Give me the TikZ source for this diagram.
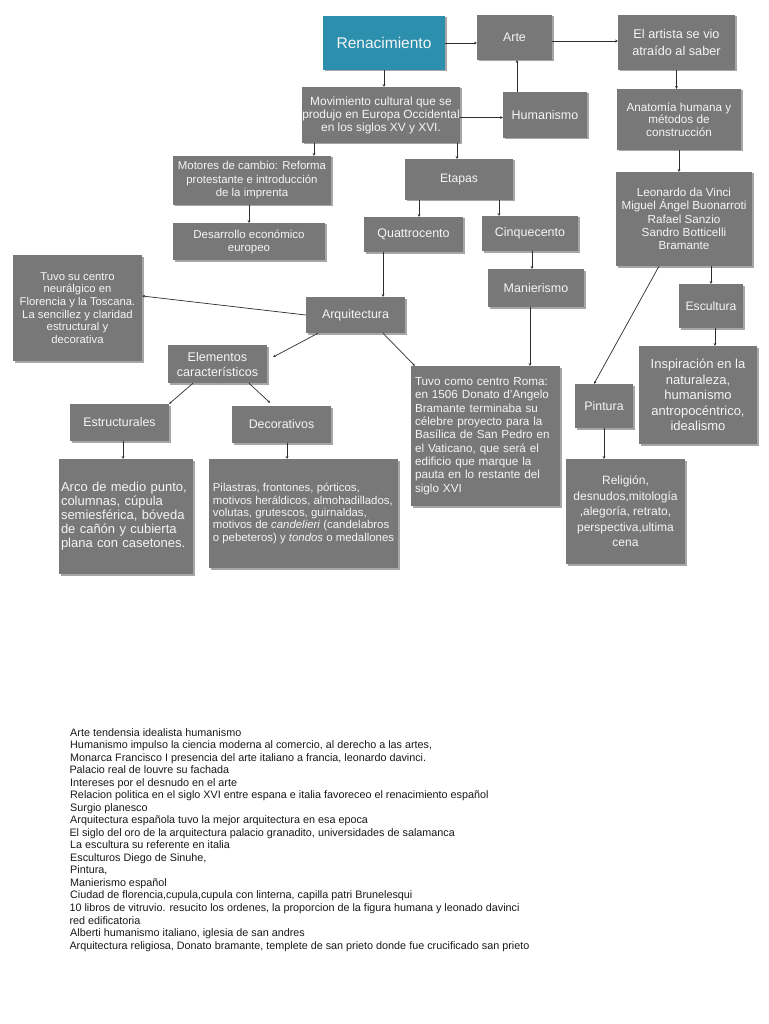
\documentclass[tikz,border=0pt]{standalone}
\usepackage{fontspec}
\setmainfont{Liberation Sans}
\usetikzlibrary{arrows.meta,shadows}
\definecolor{teal1}{RGB}{44,143,173}
\definecolor{boxgray}{RGB}{120,120,120}
\definecolor{boxtext}{RGB}{245,245,245}
\definecolor{linecol}{RGB}{45,45,45}
\begin{document}
\begin{tikzpicture}[x=1pt,y=-1pt,
  box/.style={fill=boxgray, text=boxtext, inner sep=0pt, align=center,
    drop shadow={shadow xshift=1.5pt, shadow yshift=-1.5pt, opacity=0.35, fill=black}},
  fs/.style 2 args={font=\fontsize{#1pt}{#2pt}\selectfont},
  arr/.style={draw=linecol, line width=0.7pt, -{Stealth[length=2.6pt,width=2.6pt]}},
  bt/.style={anchor=base west, inner sep=0pt, font=\fontsize{10.8pt}{12pt}\selectfont, text=black!90}]
\useasboundingbox[fill=white] (0,0) rectangle (768,1024);

% nodes
\node[box, fill=teal1, fs={15.5}{18}, minimum width=122pt, minimum height=54pt] (ren) at (384,43) {Renacimiento};
\node[box, fs={12.4}{14}, minimum width=75pt, minimum height=45pt] (arte) at (514.5,37.5) {Arte};
\node[box, fs={12.7}{16.5}, minimum width=117pt, minimum height=55pt] (artista) at (676.5,42.5) {El artista se vio\\atraído al saber};
\node[box, fs={11.9}{13}, minimum width=158pt, minimum height=56pt] (mov) at (381,115) {Movimiento cultural que se\\produjo en Europa Occidental\\en los siglos XV y XVI.};
\node[box, fs={12.5}{14}, minimum width=84pt, minimum height=46pt] (hum) at (545,115) {Humanismo};
\node[box, fs={11.7}{12.6}, minimum width=124pt, minimum height=61pt] (anat) at (679,119.5) {Anatomía humana y\\métodos de\\construcción};
\node[box, fs={11.4}{13.5}, minimum width=158pt, minimum height=49pt] (mot) at (252,180.5) {Motores de cambio: Reforma\\protestante e introducción\\de la imprenta};
\node[box, fs={12.2}{14}, minimum width=108pt, minimum height=41pt] (etapas) at (459,179.5) {Etapas};
\node[box, fs={11.7}{13.3}, minimum width=136pt, minimum height=94pt] (leo) at (684,219) {Leonardo da Vinci\\Miguel Ángel Buonarroti\\Rafael Sanzio\\Sandro Botticelli\\Bramante};
\node[box, fs={11.5}{13}, minimum width=152pt, minimum height=37pt] (des) at (249,241.5) {Desarrollo económico\\europeo};
\node[box, fs={12.5}{14}, minimum width=99pt, minimum height=35pt] (quat) at (413.5,234.5) {Quattrocento};
\node[box, fs={12.5}{14}, minimum width=96pt, minimum height=35pt] (cinq) at (530,233.5) {Cinquecento};
\node[box, fs={12.5}{14}, minimum width=96pt, minimum height=38pt] (man) at (536,288) {Manierismo};
\node[box, fs={12.2}{14}, minimum width=64pt, minimum height=44pt] (esc) at (711,306) {Escultura};
\node[box, fs={11.3}{12.7}, minimum width=129pt, minimum height=106pt] (tuvo) at (77.5,308) {Tuvo su centro\\neurálgico en\\Florencia y la Toscana.\\La sencillez y claridad\\estructural y\\decorativa};
\node[box, fs={12.4}{14}, minimum width=99pt, minimum height=36pt] (arq) at (355.5,315) {Arquitectura};
\node[box, fs={12.6}{15}, minimum width=99pt, minimum height=38pt] (elem) at (217.5,364) {Elementos\\característicos};
\node[box, fs={12.4}{14}, minimum width=99pt, minimum height=37pt] (estr) at (119.5,422.5) {Estructurales};
\node[box, fs={12.4}{14}, minimum width=99pt, minimum height=37pt] (deco) at (281.5,424.5) {Decorativos};
\node[box, fs={13}{14}, align=left, text width=130pt, inner xsep=2pt, minimum height=115pt] (arco) at (126,516.5) {Arco de medio punto,\\columnas, cúpula\\semiesférica, bóveda\\de cañón y cubierta\\plana con casetones.};
\node[box, fs={11.4}{12.3}, align=left, minimum width=189pt, minimum height=109pt] (pil) at (303.5,513.5) {Pilastras, frontones, pórticos,\\motivos heráldicos, almohadillados,\\volutas, grutescos, guirnaldas,\\motivos de \textit{candelieri} (candelabros\\o pebeteros) y \textit{tondos} o medallones};
\node[box, fs={11.7}{13.3}, align=left, text width=141pt, inner xsep=4pt, minimum height=140pt] (roma) at (485.5,436) {Tuvo como centro Roma:\\en 1506 Donato d'Angelo\\Bramante terminaba su\\célebre proyecto para la\\Basílica de San Pedro en\\el Vaticano, que será el\\edificio que marque la\\pauta en lo restante del\\siglo XVI};
\node[box, fs={12.4}{14}, minimum width=58pt, minimum height=44pt] (pin) at (604,406) {Pintura};
\node[box, fs={13}{15.5}, minimum width=118pt, minimum height=98pt] (insp) at (698,395) {Inspiración en la\\naturaleza,\\humanismo\\antropocéntrico,\\idealismo};
\node[box, fs={12}{15.5}, minimum width=119pt, minimum height=105pt] (rel) at (625.5,511.5) {Religión,\\desnudos,mitología\\,alegoría, retrato,\\perspectiva,ultima\\cena};

% connectors
\draw[arr] (ren.east) -- (ren.east -| arte.west);
\coordinate (a2) at ([yshift=-3.5pt]arte.east);
\draw[arr] (a2) -- (a2 -| artista.west);
\draw[arr] (ren.south) -- (ren.south |- mov.north);
\coordinate (a4) at ([yshift=-2.5pt]mov.east);
\draw[arr] (a4) -- (a4 -| hum.west);
\coordinate (a5) at ([xshift=2.5pt]arte.south);
\draw[arr] (a5 |- hum.north) -- (a5);
\coordinate (a6) at ([xshift=-67pt]mov.south);
\draw[arr] (a6) -- (a6 |- mot.north);
\coordinate (a7) at ([xshift=-2pt]etapas.north);
\draw[arr] (a7 |- mov.south) -- (a7);
\draw[arr] (des.north |- mot.south) -- (des.north);
\coordinate (a9) at ([xshift=5.5pt]quat.north);
\draw[arr] (a9 |- etapas.south) -- (a9);
\coordinate (a10) at ([xshift=-31pt]cinq.north);
\draw[arr] (a10 |- etapas.south) -- (a10);
\coordinate (a11) at ([xshift=2pt]cinq.south);
\draw[arr] (a11) -- (a11 |- man.north);
\coordinate (a12) at ([xshift=27.5pt]arq.north);
\draw[arr] (a12 |- quat.south) -- (a12);
\coordinate (a13) at ([yshift=12pt]tuvo.east);
\draw[arr] (arq.west) -- (a13);
\coordinate (a14s) at ([xshift=-37.5pt]arq.south);
\coordinate (a14e) at ([xshift=6pt,yshift=7pt]elem.east);
\draw[arr] (a14s) -- (a14e);
\coordinate (a15s) at ([xshift=27.5pt]arq.south);
\coordinate (a15e) at ([xshift=4pt]roma.north west);
\draw[arr] (a15s) -- (a15e);
\coordinate (a16) at ([xshift=-6pt]man.south);
\draw[arr] (a16) -- (a16 |- roma.north);
\coordinate (a17) at ([xshift=-24.5pt]elem.south);
\draw[arr] (a17) -- (estr.north east);
\coordinate (a18s) at ([xshift=31.5pt]elem.south);
\coordinate (a18e) at ([xshift=-11.5pt,yshift=3pt]deco.north);
\draw[arr] (a18s) -- (a18e);
\coordinate (a19) at ([xshift=3.5pt]estr.south);
\draw[arr] (a19) -- (a19 |- arco.north);
\coordinate (a20) at ([xshift=5.5pt]deco.south);
\draw[arr] (a20) -- (a20 |- pil.north);
\draw[arr] (artista.south) -- (artista.south |- anat.north);
\draw[arr] (anat.south) -- (anat.south |- leo.north);
\draw[arr] (esc.north |- leo.south) -- (esc.north);
\coordinate (a24s) at ([xshift=-25pt]leo.south);
\coordinate (a24e) at ([xshift=-10pt]pin.north);
\draw[arr] (a24s) -- (a24e);
\coordinate (a25) at ([xshift=4pt]esc.south);
\draw[arr] (a25) -- (a25 |- insp.north);
\draw[arr] (pin.south) -- (pin.south |- rel.north);

% bottom notes
\node[bt] (b1) at (70,736) {Arte tendensia idealista humanismo};
\node[bt] (b2) at (70,748.5) {Humanismo impulso la ciencia moderna al comercio, al derecho a las artes,};
\node[bt] (b3) at (70,761.1) {Monarca Francisco I presencia del arte italiano a francia, leonardo davinci.};
\node[bt] (b4) at (69.3,773.6) {Palacio real de louvre su fachada};
\node[bt] (b5) at (70,786.1) {Intereses por el desnudo en el arte};
\node[bt] (b6) at (70,798.7) {Relacion politica en el siglo XVI entre espana e italia favoreceo el renacimiento español};
\node[bt] (b7) at (70,811.2) {Surgio planesco};
\node[bt] (b8) at (70,823.7) {Arquitectura española tuvo la mejor arquitectura en esa epoca};
\node[bt] (b9) at (69.3,836.2) {El siglo del oro de la arquitectura palacio granadito, universidades de salamanca};
\node[bt] (b10) at (70,848.8) {La escultura su referente en italia};
\node[bt] (b11) at (70,861.3) {Esculturos Diego de Sinuhe,};
\node[bt] (b12) at (70,873.8) {Pintura,};
\node[bt] (b13) at (70,886.4) {Manierismo español};
\node[bt] (b14) at (70,898.9) {Ciudad de florencia,cupula,cupula con linterna, capilla patri Brunelesqui};
\node[bt] (b15) at (69.3,911.4) {10 libros de vitruvio. resucito los ordenes, la proporcion de la figura humana y leonado davinci};
\node[bt] (b16) at (69.3,924) {red edificatoria};
\node[bt] (b17) at (70,936.5) {Alberti humanismo italiano, iglesia de san andres};
\node[bt] (b18) at (69.3,949) {Arquitectura religiosa, Donato bramante, templete de san prieto donde fue crucificado san prieto};
\end{tikzpicture}
\end{document}
